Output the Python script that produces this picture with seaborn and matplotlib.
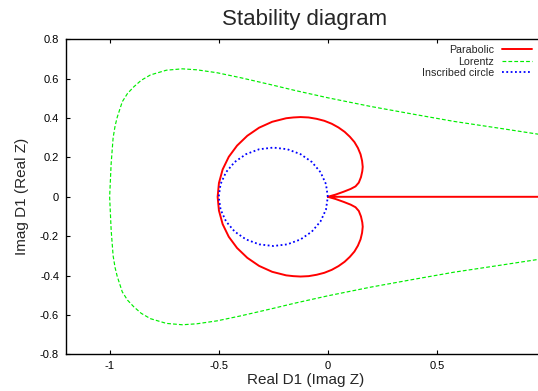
import numpy as np
import pandas as pd
import matplotlib
matplotlib.use("Agg")
import matplotlib.pyplot as plt
import seaborn as sns

# ---------------- data ----------------
series_names = ["Parabolic", "Lorentz", "Inscribed circle"]

# Parabolic: real-axis branch, then the cardioid-like loop
parab_line_x = [1.00, 0.0]
parab_line_y = [0.0, 0.0]
parab_upper_x = [0.0, 0.035, 0.073, 0.105, 0.127, 0.142, 0.152, 0.158, 0.160, 0.157,
                 0.150, 0.138, 0.122, 0.101, 0.077, 0.049, 0.018, -0.016, -0.051, -0.088,
                 -0.125, -0.158, -0.191, -0.255, -0.315, -0.369, -0.416, -0.454, -0.482,
                 -0.499, -0.505]
parab_upper_y = [0.0, 0.011, 0.026, 0.040, 0.053, 0.072, 0.100, 0.130, 0.152, 0.183,
                 0.216, 0.248, 0.278, 0.305, 0.330, 0.352, 0.371, 0.386, 0.396, 0.403,
                 0.405, 0.403, 0.399, 0.381, 0.351, 0.310, 0.260, 0.203, 0.139,
                 0.070, 0.0]
parab_lower_x = [-0.499, -0.482, -0.454, -0.416, -0.369, -0.315, -0.255, -0.191, -0.158,
                 -0.125, -0.088, -0.051, -0.016, 0.018, 0.049, 0.077, 0.101, 0.122, 0.138,
                 0.150, 0.157, 0.160, 0.158, 0.152, 0.142, 0.127, 0.105, 0.073, 0.035, 0.0]
parab_lower_y = [-0.070, -0.139, -0.203, -0.260, -0.310, -0.351, -0.381, -0.399, -0.403,
                 -0.405, -0.403, -0.396, -0.386, -0.371, -0.352, -0.330, -0.305, -0.278, -0.248,
                 -0.216, -0.183, -0.152, -0.130, -0.100, -0.072, -0.053, -0.040, -0.026,
                 -0.011, 0.0]

# Lorentz: upper branch right -> left, lower branch left -> right
lor_upper_x = [1.00, 0.80, 0.578, 0.40, 0.196, 0.0, -0.15, -0.263, -0.40, -0.507, -0.60,
               -0.667, -0.74, -0.813, -0.855, -0.889, -0.918, -0.942, -0.965, -0.975,
               -0.984, -0.993, -1.0]
lor_upper_y = [0.312, 0.346, 0.383, 0.418, 0.459, 0.503, 0.540, 0.570, 0.605, 0.630, 0.645,
               0.650, 0.643, 0.619, 0.592, 0.559, 0.525, 0.483, 0.405, 0.360,
               0.300, 0.170, 0.0]
lor_lower_x = [-0.993, -0.984, -0.975, -0.965, -0.942, -0.918, -0.889, -0.855, -0.813,
               -0.74, -0.667, -0.60, -0.507, -0.40, -0.263, -0.15, 0.0, 0.196, 0.40,
               0.578, 0.80, 1.00]
lor_lower_y = [-0.170, -0.300, -0.360, -0.405, -0.483, -0.525, -0.559, -0.592, -0.619,
               -0.643, -0.650, -0.645, -0.630, -0.605, -0.570, -0.540, -0.503, -0.459, -0.418,
               -0.383, -0.346, -0.312]

# Inscribed circle (centre -0.25, radius 0.25)
circle_x = [0.0, -0.0085, -0.0335, -0.0732, -0.125, -0.1853, -0.25, -0.3147, -0.375,
            -0.4268, -0.4665, -0.4915, -0.5, -0.4915, -0.4665, -0.4268, -0.375, -0.3147,
            -0.25, -0.1853, -0.125, -0.0732, -0.0335, -0.0085, 0.0]
circle_y = [0.0, 0.0647, 0.125, 0.1768, 0.2165, 0.2415, 0.25, 0.2415, 0.2165,
            0.1768, 0.125, 0.0647, 0.0, -0.0647, -0.125, -0.1768, -0.2165, -0.2415,
            -0.25, -0.2415, -0.2165, -0.1768, -0.125, -0.0647, 0.0]

x_ticks = [-1.0, -0.5, 0.0, 0.5]
x_tick_labels = ["-1", "-0.5", "0", "0.5"]
y_ticks = [-0.8, -0.6, -0.4, -0.2, 0.0, 0.2, 0.4, 0.6, 0.8]
y_tick_labels = ["-0.8", "-0.6", "-0.4", "-0.2", "0", "0.2", "0.4", "0.6", "0.8"]

title = "Stability diagram"
x_label = "Real D1 (Imag Z)"
y_label = "Imag D1 (Real Z)"

# ---------------- figure ----------------
sns.set_style("ticks")
plt.rcParams["font.family"] = ["Liberation Sans", "DejaVu Sans"]

W, H = 538, 391
fig = plt.figure(figsize=(W / 100, H / 100), dpi=100)
ax_left, ax_right, ax_top, ax_bot = 66, 546, 39.3, 354.3
ax = fig.add_axes([ax_left / W, 1 - ax_bot / H, (ax_right - ax_left) / W, (ax_bot - ax_top) / H])

parab = pd.DataFrame({"x": parab_line_x + parab_upper_x + parab_lower_x,
                      "y": parab_line_y + parab_upper_y + parab_lower_y})
lor = pd.DataFrame({"x": lor_upper_x + lor_lower_x, "y": lor_upper_y + lor_lower_y})
circ = pd.DataFrame({"x": circle_x, "y": circle_y})

sns.lineplot(data=parab, x="x", y="y", sort=False, estimator=None, ax=ax,
             color="#ff0000", lw=1.4, label=series_names[0])
sns.lineplot(data=lor, x="x", y="y", sort=False, estimator=None, ax=ax,
             color="#00ee00", lw=0.85, linestyle=(0, (3.2, 1.8)), label=series_names[1])
sns.lineplot(data=circ, x="x", y="y", sort=False, estimator=None, ax=ax,
             color="#0000ff", lw=1.3, linestyle=(0, (1.0, 1.4)), label=series_names[2])

ax.set_xlim(-1.2, 1.0)
ax.set_ylim(-0.8, 0.8)
ax.set_xticks(x_ticks)
ax.set_xticklabels(x_tick_labels)
ax.set_yticks(y_ticks)
ax.set_yticklabels(y_tick_labels)
ax.tick_params(direction="in", length=3, width=0.8, labelsize=8, colors="black",
               top=True, right=True)
ax.tick_params(axis="x", pad=5)
ax.tick_params(axis="y", pad=5)
for s in ax.spines.values():
    s.set_color("black")
    s.set_linewidth(1.0)

ax.set_xlabel(x_label, fontsize=11, labelpad=1)
ax.set_ylabel(y_label, fontsize=11, labelpad=8)
fig.text(304.5 / W, 1 - 20 / H, title, ha="center", va="center", fontsize=16)

leg = ax.legend(loc="upper right", bbox_to_anchor=(532 / W, 1 - 45 / H),
                bbox_transform=fig.transFigure, frameon=False, markerfirst=False,
                fontsize=7.7, handlelength=2.8, handletextpad=0.75, labelspacing=0.15,
                borderpad=0, borderaxespad=0)

fig.savefig("out.png", dpi=100)
